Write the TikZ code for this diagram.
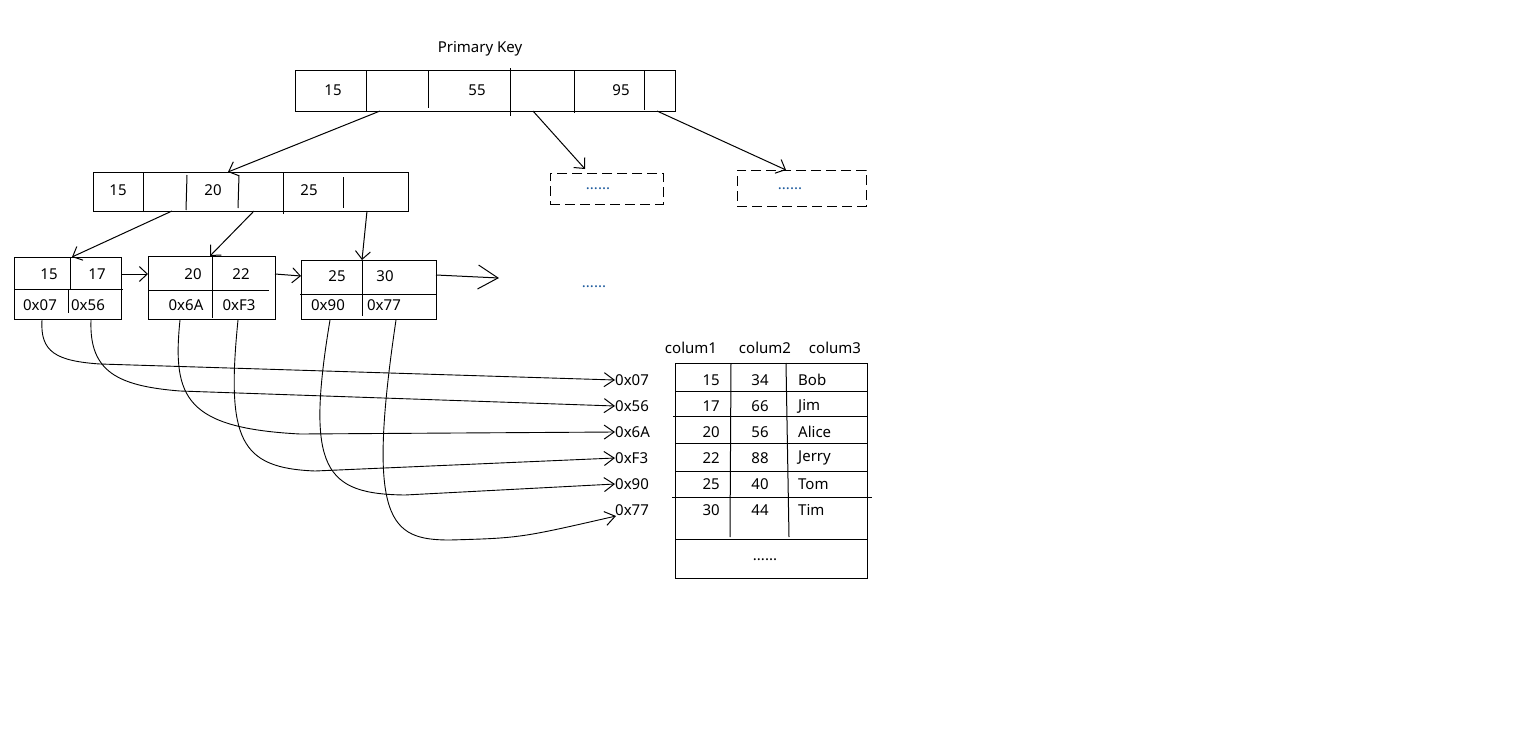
\documentclass[tikz,border=0pt]{standalone}
\usepackage{fontspec}
\setmainfont{Noto Sans}
\usetikzlibrary{arrows.meta}
\definecolor{dotblue}{HTML}{1F5C9E}
\begin{document}
\begin{tikzpicture}[x=1pt,y=-1pt,
  box/.style={draw,line width=1pt,inner sep=0pt,outer sep=0pt,anchor=north west},
  dbox/.style={box,dash pattern=on 10pt off 5pt},
  txt/.style={inner sep=0pt,font=\fontsize{15}{17}\selectfont},
  dots/.style={txt,text=dotblue,font=\fontsize{15}{17}\selectfont\bfseries},
  ln/.style={line width=1pt},
  arr/.style={line width=1pt,-{Straight Barb[length=8pt,width=15pt,line width=1pt]}},
  bigarr/.style={line width=1pt,-{Straight Barb[length=20pt,width=24pt,line width=1pt]}},
  ptr/.style={line width=0.9pt,-{Straight Barb[length=10pt,width=14pt,line width=1pt]}}
]
\fill[white] (0,0) rectangle (1537,750);
\useasboundingbox (0,0) rectangle (1537,750);

% ---------- root page ----------
\node[txt] (pk) at (480,49) {Primary Key};
\node[box,minimum width=380pt,minimum height=41pt] (root) at (295,70) {};
\draw[ln] (366,70) -- (366,111);
\draw[ln] (428,70) -- (428,108);
\draw[ln] (510,68) -- (510,116);
\draw[ln] (574,70) -- (574,113);
\draw[ln] (644,70) -- (644,110);
\node[txt] (r15) at (333,90) {15};
\node[txt] (r55) at (477,90) {55};
\node[txt] (r95) at (621,90) {95};
\coordinate (rp1) at (380,111);
\coordinate (rp2) at (533,111);
\coordinate (rp3) at (657,111);

% ---------- second level ----------
\node[box,minimum width=315pt,minimum height=39pt] (mid) at (93,172) {};
\draw[ln] (143,172) -- (143,211);
\draw[ln] (187,175) -- (186,210);
\draw[ln] (239,175) -- (238,208);
\draw[ln] (283,172) -- (283,214);
\draw[ln] (343,177) -- (343,208);
\node[txt] (m15) at (118,190) {15};
\node[txt] (m20) at (213,190) {20};
\node[txt] (m25) at (309,190) {25};
\coordinate (midin) at (228,172);
\coordinate (mp1) at (172,211);
\coordinate (mp2) at (254,211);
\coordinate (mp3) at (367,211);

% ---------- pages not expanded ----------
\node[dbox,minimum width=113pt,minimum height=31pt] (d1) at (550,173) {};
\node[dots] (d1t) at (598,189) {......};
\node[dbox,minimum width=129pt,minimum height=36pt] (d2) at (737,170) {};
\node[dots] (d2t) at (790,189) {......};
\coordinate (d1in) at (585,169);
\coordinate (d2in) at (786,170);

\draw[arr] (rp1) -- (midin);
\draw[arr] (rp2) -- (d1in);
\draw[arr] (rp3) -- (d2in);

% ---------- leaf pages ----------
\node[box,minimum width=107pt,minimum height=62pt] (leafA) at (14,257) {};
\draw[ln] (14,289) -- (123,289);
\draw[ln] (70,257) -- (70,290);
\draw[ln] (68,290) -- (68,313);
\node[txt] (a15) at (49,274) {15};
\node[txt] (a17) at (97,274) {17};
\node[txt] (a07) at (40,305) {0x07};
\node[txt] (a56) at (88,305) {0x56};

\node[box,minimum width=127pt,minimum height=63pt] (leafB) at (148,256) {};
\draw[ln] (148,290) -- (269,290);
\draw[ln] (212,256) -- (212,318);
\node[txt] (b20) at (193,274) {20};
\node[txt] (b22) at (241,274) {22};
\node[txt] (b6A) at (186,305) {0x6A};
\node[txt] (bF3) at (239,305) {0xF3};

\node[box,minimum width=135pt,minimum height=59pt] (leafC) at (301,260) {};
\draw[ln] (300,294) -- (437,294);
\draw[ln] (362,260) -- (362,316);
\node[txt] (c25) at (337,276) {25};
\node[txt] (c30) at (385,276) {30};
\node[txt] (c90) at (328,305) {0x90};
\node[txt] (c77) at (384,305) {0x77};

\coordinate (inA) at (72,257);
\coordinate (inB) at (210,256);
\coordinate (inC) at (362,260);
\draw[arr] (mp1) -- (inA);
\draw[arr] (mp2) -- (inB);
\draw[arr] (mp3) -- (inC);

% sibling links
\coordinate (outA) at (121,274);
\coordinate (outB) at (275,274);
\coordinate (outC) at (436,275);
\coordinate (nextB) at (148,274);
\coordinate (nextC) at (301,276);
\coordinate (nextD) at (499,278);
\draw[arr] (outA) -- (nextB);
\draw[arr] (outB) -- (nextC);
\draw[bigarr] (outC) -- (nextD);
\node[dots] (more) at (594,287) {......};

% ---------- row addresses ----------
\node[txt,anchor=west] (x07) at (615,380) {0x07};
\node[txt,anchor=west] (x56) at (615,406) {0x56};
\node[txt,anchor=west] (x6A) at (615,432) {0x6A};
\node[txt,anchor=west] (xF3) at (615,458) {0xF3};
\node[txt,anchor=west] (x90) at (615,484) {0x90};
\node[txt,anchor=west] (x77) at (615,510) {0x77};
\coordinate (t77) at (616,516);

\coordinate (sA1) at (42,320);
\coordinate (sA2) at (91,320);
\coordinate (sB1) at (180,320);
\coordinate (sB2) at (238,320);
\coordinate (sC1) at (330,320);
\coordinate (sC2) at (396,320);

\draw[ptr] (sA1) .. controls (40,352) and (56,361) .. (100,364) -- (x07.west);
\draw[ptr] (sA2) .. controls (89,372) and (118,386) .. (180,391) -- (x56.west);
\draw[ptr] (sB1) .. controls (172,398) and (186,428) .. (300,434) -- (x6A.west);
\draw[ptr] (sB2) .. controls (226,440) and (240,468) .. (315,471) -- (xF3.west);
\draw[ptr] (sC1) .. controls (305,470) and (325,494) .. (405,495) -- (x90.west);
\draw[ptr] (sC2) .. controls (366,522) and (390,540) .. (450,540) .. controls (520,538) .. (t77);

% ---------- data table ----------
\node[txt] (h1) at (691,348) {colum1};
\node[txt] (h2) at (765,348) {colum2};
\node[txt] (h3) at (835,348) {colum3};
\node[box,minimum width=192pt,minimum height=215pt] (tbl) at (675,363) {};
\draw[ln] (675,391) -- (867,391);
\draw[ln] (673,416) -- (867,416);
\draw[ln] (675,443) -- (867,443);
\draw[ln] (676,471) -- (867,471);
\draw[ln] (672,497) -- (872,497);
\draw[ln] (675,539) -- (867,539);
\draw[ln] (731,363) -- (730,537);
\draw[ln] (786,363) -- (789,537);

\foreach \y/\a/\b/\c [count=\i] in {380/15/34/Bob,406/17/66/Jim,432/20/56/Alice,458/22/88/Jerry,484/25/40/Tom,510/30/44/Tim}{
  \node[txt,anchor=east] (k\i) at (720,\y) {\a};
  \node[txt] (v\i) at (760,\y) {\b};
  \node[txt,anchor=west] (n\i) at (798,\y) {\c};
}
\node[txt] (tmore) at (765,560) {......};
\end{tikzpicture}
\end{document}
